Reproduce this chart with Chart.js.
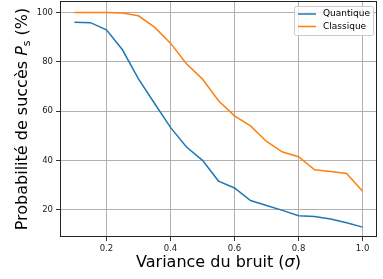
<!DOCTYPE html>
<html>
<head>
<meta charset="utf-8">
<script src="https://cdn.jsdelivr.net/npm/chart.js@4/dist/chart.umd.min.js"></script>
<style>
    html, body { margin: 0; padding: 0; background: #fff; }
    #wrap { width: 383px; height: 279px; }
</style>
</head>
<body>
<div id="wrap"><canvas id="myChart" width="383" height="279"></canvas></div>
<script>
const SIGMA = [0.1, 0.15, 0.2, 0.25, 0.3, 0.35, 0.4, 0.45, 0.5, 0.55, 0.6, 0.65, 0.7, 0.75, 0.8, 0.85, 0.9, 0.95, 1.0];
const QUANTIQUE = [96.1, 95.9, 93.0, 84.9, 73.1, 63.2, 53.4, 45.4, 40.0, 31.6, 28.8, 23.7, 21.7, 19.7, 17.5, 17.2, 16.2, 14.7, 12.9];
const CLASSIQUE = [100, 100, 100, 99.8, 98.7, 94.1, 87.6, 79.2, 73.0, 64.2, 58.1, 54.0, 47.7, 43.4, 41.5, 36.2, 35.5, 34.7, 27.5];
const X_TICKS = [0.2, 0.4, 0.6, 0.8, 1.0];
const Y_TICKS = [20, 40, 60, 80, 100];
const SERIES_LABELS = ["Quantique", "Classique"];
const COLORS = ["#1f77b4", "#ff7f0e"];

const FONT = "'DejaVu Sans', sans-serif";

function toPoints(values) {
    return values.map(function (v, i) {
        return { x: SIGMA[i], y: v };
    });
}

// draw text made of several pieces (normal, italic, subscript)
function drawRich(ctx, parts, cx, cy) {
    var total = 0;
    parts.forEach(function (p) {
        ctx.font = p.font;
        p.w = ctx.measureText(p.text).width;
        total += p.w;
    });
    var x = cx - total / 2;
    ctx.textBaseline = "middle";
    ctx.textAlign = "left";
    parts.forEach(function (p) {
        ctx.font = p.font;
        ctx.fillText(p.text, x, cy + (p.dy || 0));
        x += p.w;
    });
}

const decorations = {
    id: "decorations",
    afterDraw: function (chart) {
        const ctx = chart.ctx;
        const area = chart.chartArea;
        ctx.save();
        // frame
        ctx.strokeStyle = "#222";
        ctx.lineWidth = 1;
        ctx.strokeRect(Math.round(area.left) + 0.5, Math.round(area.top) + 0.5,
            Math.round(area.right - area.left) - 1, Math.round(area.bottom - area.top) - 1);

        // axis titles
        ctx.fillStyle = "#000";
        drawRich(ctx, [
            { text: "Variance du bruit (", font: "16px " + FONT },
            { text: "σ", font: "italic 16px " + FONT },
            { text: ")", font: "16px " + FONT }
        ], (area.left + area.right) / 2, 263);

        ctx.save();
        ctx.translate(23, (area.top + area.bottom) / 2);
        ctx.rotate(-Math.PI / 2);
        drawRich(ctx, [
            { text: "Probabilité de succès ", font: "16px " + FONT },
            { text: "P", font: "italic 16px " + FONT },
            { text: "s", font: "11px " + FONT, dy: 4 },
            { text: " (%)", font: "16px " + FONT }
        ], 0, 0);
        ctx.restore();

        // legend
        const bx = 294, by = 6, bw = 79, bh = 29;
        ctx.fillStyle = "rgba(255,255,255,0.8)";
        ctx.strokeStyle = "#cccccc";
        ctx.lineWidth = 1;
        ctx.beginPath();
        ctx.roundRect(bx + 0.5, by + 0.5, bw, bh, 2);
        ctx.fill();
        ctx.stroke();
        ctx.font = "9px " + FONT;
        ctx.textBaseline = "middle";
        ctx.textAlign = "left";
        SERIES_LABELS.forEach(function (label, i) {
            const ly = by + 8 + i * 12.5;
            ctx.strokeStyle = COLORS[i];
            ctx.lineWidth = 1.5;
            ctx.beginPath();
            ctx.moveTo(bx + 4, ly);
            ctx.lineTo(bx + 22, ly);
            ctx.stroke();
            ctx.fillStyle = "#000";
            ctx.fillText(label, bx + 29, ly);
        });
        ctx.restore();
    }
};

const ctx1 = document.getElementById("myChart");
const myChart = new Chart(ctx1, {
    type: "scatter",
    data: {
        datasets: [QUANTIQUE, CLASSIQUE].map(function (values, i) {
            return {
                label: SERIES_LABELS[i],
                data: toPoints(values),
                showLine: true,
                borderColor: COLORS[i],
                backgroundColor: COLORS[i],
                borderWidth: 1.5,
                pointRadius: 0,
                tension: 0
            };
        })
    },
    options: {
        responsive: false,
        animation: false,
        layout: { padding: { left: 0, top: 1, right: 6, bottom: 0 } },
        plugins: {
            legend: { display: false },
            tooltip: { enabled: false }
        },
        scales: {
            x: {
                type: "linear",
                min: 0.055,
                max: 1.045,
                afterBuildTicks: function (scale) {
                    scale.ticks = X_TICKS.map(function (v) { return { value: v }; });
                },
                afterFit: function (scale) {
                    scale.height = 42;
                    scale.paddingLeft = 0;
                    scale.paddingRight = 0;
                },
                ticks: {
                    font: { family: FONT, size: 8.5 },
                    color: "#222",
                    padding: 3,
                    maxRotation: 0,
                    callback: function (v) { return v.toFixed(1); }
                },
                grid: { color: "#b0b0b0", lineWidth: 1, tickLength: 4, tickColor: "#333" },
                border: { display: false }
            },
            y: {
                min: 8.9,
                max: 104.7,
                afterBuildTicks: function (scale) {
                    scale.ticks = Y_TICKS.map(function (v) { return { value: v }; });
                },
                afterFit: function (scale) {
                    scale.width = 60;
                    scale.paddingTop = 0;
                    scale.paddingBottom = 0;
                },
                ticks: {
                    font: { family: FONT, size: 8.5 },
                    color: "#222",
                    padding: 3,
                    callback: function (v) { return String(v); }
                },
                grid: { color: "#b0b0b0", lineWidth: 1, tickLength: 4, tickColor: "#333" },
                border: { display: false }
            }
        }
    },
    plugins: [decorations]
});
</script>
</body>
</html>
